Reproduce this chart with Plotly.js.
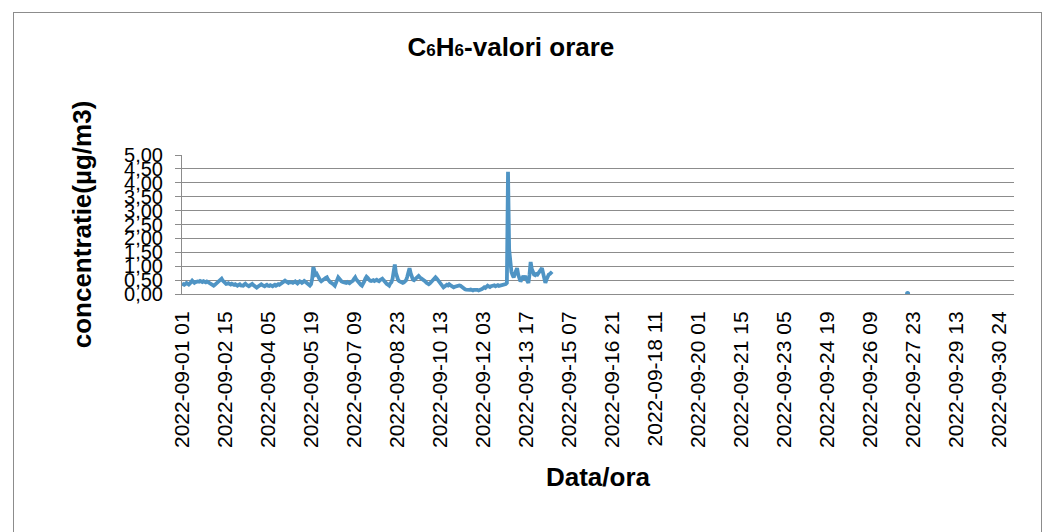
<!DOCTYPE html>
<html>
<head>
<meta charset="utf-8">
<script src="https://cdn.plot.ly/plotly-3.0.1.min.js"></script>
<style>
  html, body { margin: 0; padding: 0; background: #fff; }
  #wrap { position: relative; width: 1057px; height: 532px; }
  #chart { width: 1057px; height: 532px; }
  #frame { position: absolute; left: 13px; top: 12px; width: 1027px; height: 540px;
           border: 1px solid #8c8c8c; pointer-events: none; }
</style>
</head>
<body>
<div id="wrap">
  <div id="chart"></div>
  <div id="frame"></div>
</div>
<script>
// Hourly C6H6 values (µg/m3), one array per day, starting 2022-09-01 01
const day01 = [0.38,0.35,0.33,0.36,0.40,0.37,0.34,0.38,0.42,0.48,0.44,0.40,0.43,0.46,0.45,0.44,0.47,0.45,0.43,0.46,0.44,0.42,0.45,0.43];
const day02 = [0.40,0.38,0.35,0.32,0.30,0.33,0.36,0.40,0.42,0.45,0.50,0.55,0.48,0.42,0.38,0.36,0.37,0.39,0.36,0.34,0.37,0.35,0.33,0.35];
const day03 = [0.32,0.30,0.33,0.35,0.31,0.29,0.30,0.34,0.37,0.33,0.30,0.28,0.31,0.33,0.36,0.32,0.29,0.26,0.23,0.26,0.30,0.33,0.35,0.32];
const day04 = [0.30,0.28,0.31,0.33,0.30,0.29,0.32,0.30,0.28,0.31,0.33,0.30,0.32,0.35,0.33,0.36,0.38,0.40,0.43,0.48,0.45,0.42,0.40,0.43];
const day05 = [0.44,0.42,0.40,0.43,0.45,0.41,0.38,0.42,0.46,0.44,0.40,0.43,0.47,0.44,0.41,0.38,0.34,0.30,0.35,0.55,0.97,0.85,0.70,0.73];
const day06 = [0.62,0.55,0.50,0.46,0.48,0.52,0.55,0.58,0.60,0.52,0.45,0.42,0.40,0.38,0.34,0.30,0.38,0.50,0.60,0.55,0.48,0.45,0.43,0.42];
const day07 = [0.42,0.40,0.43,0.41,0.39,0.42,0.44,0.48,0.55,0.60,0.52,0.46,0.42,0.38,0.33,0.30,0.36,0.45,0.55,0.62,0.58,0.52,0.48,0.47];
const day08 = [0.48,0.50,0.47,0.49,0.51,0.48,0.46,0.50,0.53,0.55,0.50,0.44,0.40,0.36,0.33,0.30,0.38,0.42,0.55,0.85,1.06,0.75,0.55,0.50];
const day09 = [0.46,0.44,0.42,0.40,0.42,0.45,0.50,0.62,0.80,0.93,0.75,0.60,0.52,0.50,0.55,0.60,0.63,0.65,0.60,0.57,0.54,0.55,0.50,0.45];
const day10 = [0.40,0.37,0.35,0.38,0.42,0.48,0.53,0.58,0.60,0.56,0.50,0.46,0.42,0.36,0.30,0.24,0.27,0.30,0.33,0.31,0.35,0.32,0.28,0.26];
const day11 = [0.24,0.26,0.28,0.27,0.29,0.31,0.30,0.26,0.22,0.18,0.17,0.16,0.15,0.14,0.15,0.16,0.14,0.13,0.15,0.16,0.14,0.15,0.13,0.14];
const day12 = [0.15,0.18,0.21,0.24,0.22,0.26,0.30,0.27,0.25,0.28,0.30,0.29,0.31,0.28,0.30,0.32,0.29,0.30,0.31,0.33,0.35,0.34,0.36,0.40];
const day13 = [4.40,1.60,0.97,0.80,0.68,0.60,0.72,0.85,0.93,0.70,0.55,0.45,0.52,0.60,0.58,0.65,0.55,0.45,0.40,0.70,1.15,0.90,0.75,0.70];
const day14 = [0.68,0.72,0.70,0.75,0.82,0.88,0.93,0.75,0.55,0.40,0.52,0.65,0.70,0.72,0.75,0.80];

// isolated value later in the month
const lonePointIndex = [641];
const lonePointValue = [0.02];

// category axis labels (every 38 hours)
const tickLabels = [
  "2022-09-01 01","2022-09-02 15","2022-09-04 05","2022-09-05 19","2022-09-07 09",
  "2022-09-08 23","2022-09-10 13","2022-09-12 03","2022-09-13 17","2022-09-15 07",
  "2022-09-16 21","2022-09-18 11","2022-09-20 01","2022-09-21 15","2022-09-23 05",
  "2022-09-24 19","2022-09-26 09","2022-09-27 23","2022-09-29 13","2022-09-30 24"
];
const yTicks = [0,0.5,1,1.5,2,2.5,3,3.5,4,4.5,5];

const values = [].concat(day01,day02,day03,day04,day05,day06,day07,day08,day09,day10,day11,day12,day13,day14);
const xs = values.map((v,i) => i);
const tickVals = tickLabels.map((t,k) => k*38);

const font = "Liberation Sans, Arial, sans-serif";
const lineColor = "#4f94c4";

const traces = [
  { x: xs, y: values, type: "scatter", mode: "lines",
    line: { color: lineColor, width: 3.8 }, hoverinfo: "skip", showlegend: false },
  { x: lonePointIndex, y: lonePointValue, type: "scatter", mode: "markers",
    marker: { color: lineColor, size: 5 }, hoverinfo: "skip", showlegend: false }
];

const layout = {
  width: 1057, height: 532,
  paper_bgcolor: "#ffffff", plot_bgcolor: "#ffffff",
  separators: ",.",
  margin: { l: 182, r: 43, t: 155, b: 238, autoexpand: false },
  title: { text: "C<span style=\"font-size:17px\">6</span>H<span style=\"font-size:17px\">6</span>-valori orare",
           font: { family: font, size: 26, color: "#000", weight: "bold" },
           xref: "container", yref: "container", x: 0.4834, y: 1 - 47/532,
           xanchor: "center", yanchor: "middle" },
  xaxis: {
    range: [0, 735], tickmode: "array", tickvals: tickVals, ticktext: tickLabels,
    tickangle: -90, tickfont: { family: font, size: 21, color: "#000" },
    ticklabelstandoff: 8,
    showgrid: false, zeroline: false, showline: true, linecolor: "#8c8c8c", linewidth: 1,
    ticks: "", automargin: false,
    title: { text: "Data/ora", font: { family: font, size: 26, color: "#000", weight: "bold" }, standoff: 20 }
  },
  yaxis: {
    range: [0, 5], tickmode: "array", tickvals: yTicks, tickformat: ".2f",
    tickfont: { family: font, size: 20, color: "#000" },
    ticklabelstandoff: 8,
    showgrid: true, gridcolor: "#8c8c8c", gridwidth: 1,
    zeroline: false, showline: true, linecolor: "#8c8c8c", linewidth: 1,
    ticks: "outside", ticklen: 6, tickcolor: "#8c8c8c", automargin: false,
    title: { text: "concentratie(µg/m3)", font: { family: font, size: 26, color: "#000", weight: "bold" }, standoff: 24 }
  },
  showlegend: false
};

Plotly.newPlot("chart", traces, layout, { displayModeBar: false, staticPlot: true });
</script>
</body>
</html>
